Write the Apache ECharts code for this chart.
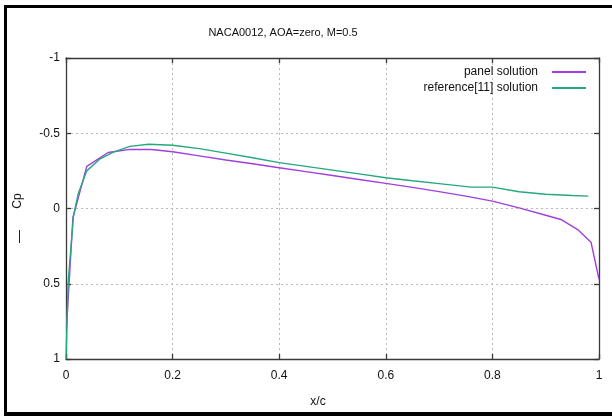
<!DOCTYPE html>
<html>
<head>
<meta charset="utf-8">
<script src="https://cdn.jsdelivr.net/npm/echarts@6/dist/echarts.min.js"></script>
<style>
  html, body { margin: 0; padding: 0; background: #fff; }
  #chart { width: 612px; height: 416px; }
</style>
</head>
<body>
<div id="chart"></div>
<script>
// Pressure coefficient along the NACA0012 chord, zero incidence, M = 0.5
const xPanel  = [0.001, 0.013, 0.039, 0.079, 0.12, 0.16, 0.2, 0.25, 0.3, 0.35, 0.4, 0.45, 0.5, 0.55, 0.6, 0.65, 0.7, 0.75, 0.8, 0.85, 0.9, 0.93, 0.96, 0.985, 1.0];
const cpPanel = [0.79, 0.06, -0.28, -0.372, -0.393, -0.392, -0.377, -0.35, -0.322, -0.297, -0.271, -0.245, -0.219, -0.193, -0.167, -0.14, -0.112, -0.082, -0.049, -0.004, 0.045, 0.075, 0.14, 0.224, 0.47];

const xRef  = [0, 0.004, 0.014, 0.023, 0.039, 0.064, 0.089, 0.12, 0.155, 0.2, 0.25, 0.3, 0.35, 0.4, 0.45, 0.5, 0.55, 0.6, 0.65, 0.7, 0.76, 0.8, 0.85, 0.9, 0.95, 0.98];
const cpRef = [1, 0.49, 0.05, -0.1, -0.25, -0.33, -0.375, -0.413, -0.427, -0.42, -0.398, -0.368, -0.337, -0.305, -0.28, -0.255, -0.23, -0.204, -0.184, -0.165, -0.142, -0.142, -0.111, -0.095, -0.086, -0.082];

const xTicks = [0, 0.2, 0.4, 0.6, 0.8, 1];
const yTicks = [-1, -0.5, 0, 0.5, 1];

const seriesNames = ['panel solution', 'reference[11] solution'];
const seriesColors = ['#a13fdc', '#25a780'];

const zip = (xs, ys) => xs.map((x, i) => [x, ys[i]]);

const FONT = 'Liberation Sans';
const frameColor = '#3a3a3a';

function frameAxis(extra) {
  return Object.assign({
    type: 'value',
    axisLine: { show: true, onZero: false, lineStyle: { color: frameColor, width: 1.3 } },
    axisTick: { show: true, inside: true, length: 5, lineStyle: { color: frameColor, width: 1.3 } },
    splitLine: { show: false },
    axisLabel: { show: false }
  }, extra);
}

const chart = echarts.init(document.getElementById('chart'), null, { renderer: 'canvas' });

chart.setOption({
  backgroundColor: '#fff',
  animation: false,
  grid: { left: 66, right: 13, top: 58, bottom: 57, containLabel: false },
  xAxis: [
    frameAxis({
      position: 'bottom', min: xTicks[0], max: xTicks[xTicks.length - 1], interval: 0.2,
      splitLine: { show: true, lineStyle: { color: '#b8b8b8', type: [2, 3], width: 1 } },
      axisLabel: { show: true, margin: 11, color: '#111', fontFamily: FONT, fontSize: 12 }
    }),
    frameAxis({ position: 'top', min: xTicks[0], max: xTicks[xTicks.length - 1], interval: 0.2 })
  ],
  yAxis: [
    frameAxis({
      position: 'left', inverse: true, min: yTicks[0], max: yTicks[yTicks.length - 1], interval: 0.5,
      splitLine: { show: true, lineStyle: { color: '#b8b8b8', type: [2, 3], width: 1 } },
      axisLabel: { show: true, margin: 6, color: '#111', fontFamily: FONT, fontSize: 12 }
    }),
    frameAxis({ position: 'right', inverse: true, min: yTicks[0], max: yTicks[yTicks.length - 1], interval: 0.5 })
  ],
  legend: [0, 1].map(i => ({
    data: [seriesNames[i]],
    orient: 'vertical',
    align: 'right',
    right: 26,
    top: 66 + i * 16,
    padding: 0,
    icon: 'rect',
    itemWidth: 34,
    itemHeight: 2,
    textStyle: { fontFamily: FONT, fontSize: 12, color: '#111', padding: [0, 9, 0, 0] }
  })),
  series: [
    {
      name: seriesNames[0], type: 'line', data: zip(xPanel, cpPanel),
      showSymbol: false, symbol: 'none',
      lineStyle: { color: seriesColors[0], width: 1.4 },
      itemStyle: { color: seriesColors[0] }
    },
    {
      name: seriesNames[1], type: 'line', data: zip(xRef, cpRef),
      showSymbol: false, symbol: 'none',
      lineStyle: { color: seriesColors[1], width: 1.4 },
      itemStyle: { color: seriesColors[1] }
    }
  ],
  graphic: [
    // outer page border
    { type: 'rect', shape: { x: 4, y: 5, width: 608, height: 3 }, style: { fill: '#000' }, silent: true },
    { type: 'rect', shape: { x: 4, y: 5, width: 3, height: 411 }, style: { fill: '#000' }, silent: true },
    { type: 'rect', shape: { x: 4, y: 412, width: 608, height: 4 }, style: { fill: '#000' }, silent: true },
    {
      type: 'text', x: 283, y: 33,
      style: { text: 'NACA0012, AOA=zero, M=0.5', fontFamily: FONT, fontSize: 11, fill: '#111', align: 'center', verticalAlign: 'middle' }
    },
    {
      type: 'text', x: 318, y: 402,
      style: { text: 'x/c', fontFamily: FONT, fontSize: 12, fill: '#111', align: 'center', verticalAlign: 'middle' }
    },
    // y-axis title, read bottom to top: minus sign, then Cp
    {
      type: 'line', shape: { x1: 19.5, y1: 230, x2: 19.5, y2: 243 },
      style: { stroke: '#222', lineWidth: 1 }, silent: true
    },
    {
      type: 'text', x: 18, y: 201, rotation: Math.PI / 2,
      style: { text: 'Cp', fontFamily: FONT, fontSize: 12, fill: '#111', align: 'center', verticalAlign: 'middle' }
    }
  ]
});
</script>
</body>
</html>
